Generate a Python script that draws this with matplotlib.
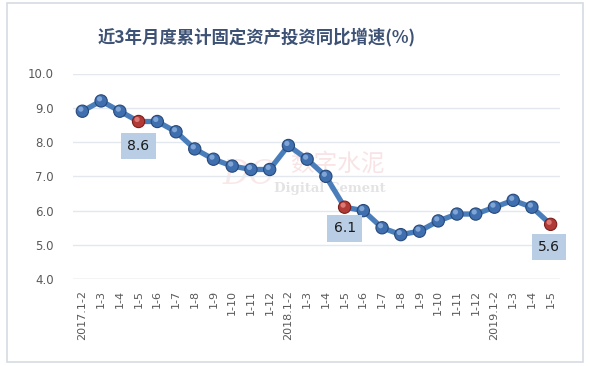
import matplotlib
matplotlib.use("Agg")
import matplotlib.pyplot as plt
from matplotlib.patches import Rectangle

plt.rcParams['font.family'] = ['Noto Sans CJK SC', 'DejaVu Sans']

categories = ["2017.1-2", "1-3", "1-4", "1-5", "1-6", "1-7", "1-8", "1-9", "1-10", "1-11", "1-12",
              "2018.1-2", "1-3", "1-4", "1-5", "1-6", "1-7", "1-8", "1-9", "1-10", "1-11", "1-12",
              "2019.1-2", "1-3", "1-4", "1-5"]
values = [8.9, 9.2, 8.9, 8.6, 8.6, 8.3, 7.8, 7.5, 7.3, 7.2, 7.2,
          7.9, 7.5, 7.0, 6.1, 6.0, 5.5, 5.3, 5.4, 5.7, 5.9, 5.9,
          6.1, 6.3, 6.1, 5.6]
highlight_idx = [3, 14, 25]
title = "近3年月度累计固定资产投资同比增速(%)"
yticks = [4.0, 5.0, 6.0, 7.0, 8.0, 9.0, 10.0]

fig = plt.figure(figsize=(5.9, 3.66), dpi=100)
fig.patch.set_facecolor("white")
# outer frame
fig.patches.append(Rectangle((7/590, 1 - 362/366), (583-7)/590, (362-3)/366,
                             transform=fig.transFigure, fill=False,
                             edgecolor="#d5dbe3", linewidth=1.2))

ax = fig.add_axes([73.0/590, 1 - 279.2/366, (560.0-73.0)/590, (279.2-73.5)/366])
x = list(range(len(values)))
ax.set_xlim(-0.5, len(values) - 0.5)
ax.set_ylim(4.0, 10.0)
ax.set_yticks(yticks)
ax.set_yticklabels([f"{v:.1f}" for v in yticks], fontsize=8.5, color="#595959",
                   family="DejaVu Sans")
ax.set_xticks(x)
ax.set_xticklabels(categories, rotation=90, fontsize=8, color="#595959",
                   family="DejaVu Sans")
ax.tick_params(axis="both", length=0)
ax.tick_params(axis="y", pad=14)
ax.tick_params(axis="x", pad=8)
for s in ax.spines.values():
    s.set_visible(False)
ax.grid(axis="y", color="#e3e8ef", linewidth=1)
ax.set_axisbelow(True)
ax.axhline(4.0, color="#d9dde3", linewidth=1)

# watermark
ax.text(8.9, 7.05, "DC", fontsize=24, color="#e8a7ab", alpha=0.25, family="DejaVu Serif",
        style="italic", ha="center", va="center", zorder=0)
ax.text(13.6, 7.35, "数字水泥", fontsize=17, color="#e8a7ab", alpha=0.3, ha="center",
        va="center", zorder=0, family=["Noto Sans CJK SC"])
ax.text(13.2, 6.66, "Digital Cement", fontsize=9.5, color="#c8c8c8", alpha=0.5,
        family="DejaVu Serif", fontweight="bold", ha="center", va="center", zorder=0)

ax.plot(x, values, color="#4a7ebb", linewidth=3.8, zorder=2, solid_capstyle="round")
colors = ["#b23a36" if i in highlight_idx else "#3f6fae" for i in x]
edge = ["#7a1f1c" if i in highlight_idx else "#27497a" for i in x]
ax.scatter(x, values, s=78, c=colors, edgecolors=edge, linewidths=0.8, zorder=3)
hl = ["#e58a86" if i in highlight_idx else "#8fb3e0" for i in x]
ax.scatter([i - 0.08 for i in x], [v + 0.06 for v in values], s=14, c=hl,
           linewidths=0, alpha=0.8, zorder=4)

label_offsets = {3: (0.0, -0.72), 14: (0.0, -0.62), 25: (-0.1, -0.66)}
for i in highlight_idx:
    dx, dy = label_offsets[i]
    ax.text(i + dx, values[i] + dy, f"{values[i]:.1f}", fontsize=10, color="#1a1a1a",
            ha="center", va="center", family="DejaVu Sans",
            bbox=dict(boxstyle="square,pad=0.45", facecolor="#b9cde5", edgecolor="none"),
            zorder=5, clip_on=False)

fig.text(0.435, 1 - 37/366, title, fontsize=12.5, fontweight="bold", color="#3d5275",
         ha="center", va="center")

fig.savefig("out.png", dpi=100)
